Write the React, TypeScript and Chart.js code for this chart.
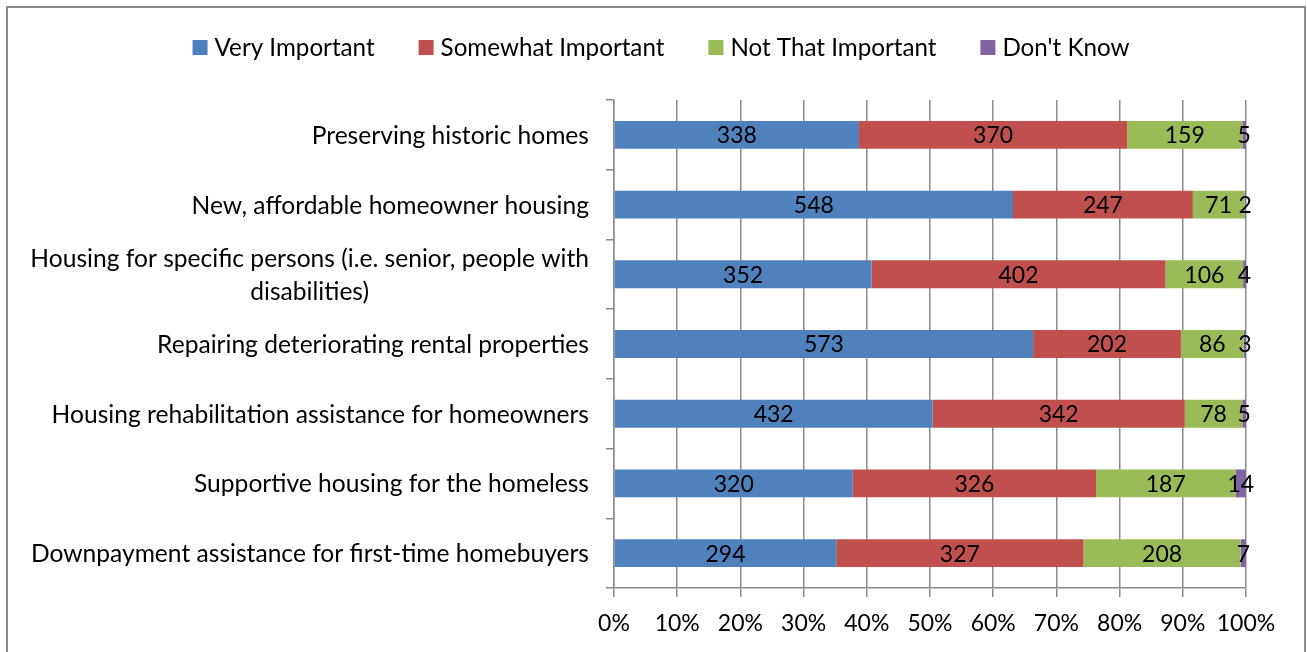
import React, { useEffect, useRef } from "react";
import { Chart, registerables } from "chart.js";

Chart.register(...registerables);

const categories: (string | string[])[] = [
  "Preserving historic homes",
  "New, affordable homeowner housing",
  ["Housing for specific persons (i.e. senior, people with", "disabilities)"],
  "Repairing deteriorating rental properties",
  "Housing rehabilitation assistance for homeowners",
  "Supportive housing for the homeless",
  "Downpayment assistance for first-time homebuyers",
];
const seriesNames = ["Very Important", "Somewhat Important", "Not That Important", "Don't Know"];
const veryImportant = [338, 548, 352, 573, 432, 320, 294];
const somewhatImportant = [370, 247, 402, 202, 342, 326, 327];
const notThatImportant = [159, 71, 106, 86, 78, 187, 208];
const dontKnow = [5, 2, 4, 3, 5, 14, 7];
const seriesColors = ["#4F81BD", "#C0504D", "#9BBB59", "#8064A2"];
const xTickValues = [0, 10, 20, 30, 40, 50, 60, 70, 80, 90, 100];

const FONT = "Lato";
const AXIS_SIZE = 23;
const CAT_SIZE = 24.6;
const LABEL_SIZE = 23;
const LEGEND_SIZE = 24.2;
const GRID = "#8c8c8c";

const allSeries = [veryImportant, somewhatImportant, notThatImportant, dontKnow];
const totals = categories.map((_, i) => allSeries.reduce((s, arr) => s + arr[i], 0));

const legendPlugin = {
  id: "customLegend",
  afterDraw(chart: any) {
    const ctx = chart.ctx;
    ctx.save();
    ctx.font = `${LEGEND_SIZE}px ${FONT}`;
    ctx.textBaseline = "middle";
    ctx.textAlign = "left";
    const box = 15;
    const gapText = 7;
    const gapItem = 44;
    const items = chart.data.datasets.map((ds: any) => ({
      label: ds.label as string,
      color: ds.backgroundColor as string,
      w: ctx.measureText(ds.label).width,
    }));
    const total =
      items.reduce((s: number, it: any) => s + box + gapText + it.w, 0) + gapItem * (items.length - 1);
    const cxRow = 661;
    const cy = 47;
    let x = cxRow - total / 2;
    items.forEach((it: any) => {
      ctx.fillStyle = it.color;
      ctx.fillRect(x, cy - 7, box, box);
      ctx.fillStyle = "#000";
      ctx.fillText(it.label, x + box + gapText, cy + 1);
      x += box + gapText + it.w + gapItem;
    });
    ctx.restore();
  },
};

const yLabelPlugin = {
  id: "yLabels",
  afterDraw(chart: any) {
    const y = chart.scales.y;
    const ctx = chart.ctx;
    ctx.save();
    ctx.font = `${CAT_SIZE}px ${FONT}`;
    ctx.fillStyle = "#000";
    ctx.textAlign = "center";
    ctx.textBaseline = "middle";
    const right = y.right - 25;
    const lh = 33;
    (chart.data.labels as any[]).forEach((lab, i) => {
      const lines: string[] = Array.isArray(lab) ? lab : [lab];
      const w = Math.max(...lines.map((l) => ctx.measureText(l).width));
      const cx = right - w / 2;
      const yc = y.getPixelForTick(i);
      lines.forEach((l, k) => ctx.fillText(l, cx, yc + 1 + (k - (lines.length - 1) / 2) * lh));
    });
    ctx.restore();
  },
};

const valueLabelPlugin = {
  id: "valueLabels",
  afterDatasetsDraw(chart: any) {
    const ctx = chart.ctx;
    ctx.save();
    ctx.font = `${LABEL_SIZE}px ${FONT}`;
    ctx.fillStyle = "#000";
    ctx.textAlign = "center";
    ctx.textBaseline = "middle";
    chart.data.datasets.forEach((ds: any, di: number) => {
      const meta = chart.getDatasetMeta(di);
      meta.data.forEach((bar: any, i: number) => {
        const cx = (bar.x + bar.base) / 2;
        ctx.fillText(String(ds.counts[i]), cx, bar.y + 1);
      });
    });
    ctx.restore();
  },
};

export default function App() {
  const ref = useRef<HTMLCanvasElement | null>(null);
  useEffect(() => {
    if (!ref.current) return;
    const chart = new Chart(ref.current, {
      type: "bar",
      data: {
        labels: categories,
        datasets: allSeries.map((arr, k) => ({
          label: seriesNames[k],
          data: arr.map((v, i) => (v / totals[i]) * 100),
          counts: arr,
          backgroundColor: seriesColors[k],
          borderWidth: 0,
          barPercentage: 0.4,
          categoryPercentage: 1,
        })) as any,
      },
      options: {
        indexAxis: "y",
        animation: false,
        responsive: false,
        maintainAspectRatio: false,
        layout: { padding: { left: 0, right: 61, top: 100, bottom: 0 } },
        plugins: {
          tooltip: { enabled: false },
          legend: { display: false },
        },
        scales: {
          x: {
            stacked: true,
            min: 0,
            max: 100,
            afterFit: (s: any) => {
              s.height = 64;
            },
            afterBuildTicks: (s: any) => {
              s.ticks = xTickValues.map((v) => ({ value: v }));
            },
            ticks: {
              callback: (v: any) => `${v}%`,
              color: "#000",
              font: { family: FONT, size: AXIS_SIZE },
              padding: 13,
              maxRotation: 0,
            },
            grid: { color: GRID, lineWidth: 1.5, tickLength: 9, drawTicks: true },
            border: { color: GRID, width: 1.5 },
          },
          y: {
            stacked: true,
            afterFit: (s: any) => {
              s.width = 614;
            },
            ticks: { display: false },
            grid: { drawOnChartArea: false, color: GRID, lineWidth: 1.5, tickLength: 8, offset: true },
            border: { color: GRID, width: 1.5 },
          },
        },
      } as any,
      plugins: [legendPlugin, yLabelPlugin, valueLabelPlugin],
    });
    return () => chart.destroy();
  }, []);

  return (
    <div style={{ position: "absolute", left: 0, top: 0, width: 1307, height: 652, background: "#fff", overflow: "hidden" }}>
      <div
        style={{
          position: "absolute",
          left: 6,
          top: 6,
          width: 1296,
          height: 700,
          border: "2px solid #8a8a8a",
        }}
      />
      <canvas ref={ref} width={1307} height={652} style={{ position: "absolute", left: 0, top: 0, width: 1307, height: 652 }} />
    </div>
  );
}
